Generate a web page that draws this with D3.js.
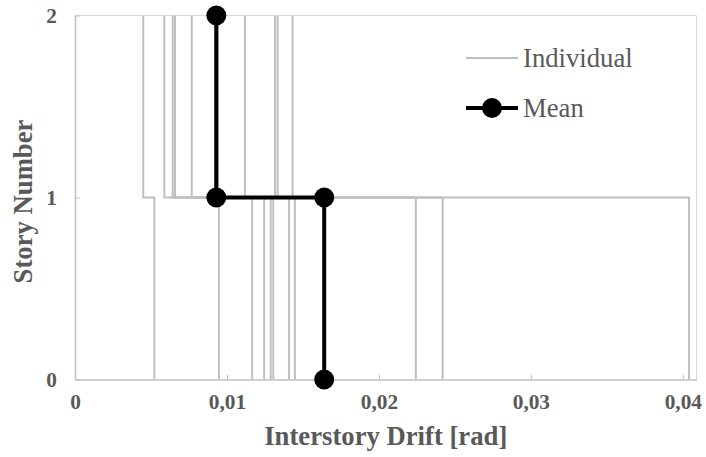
<!DOCTYPE html>
<html>
<head>
<meta charset="utf-8">
<script src="https://cdn.jsdelivr.net/npm/d3@7"></script>
<style>
  html, body { margin: 0; padding: 0; background: #fff; }
  svg { display: block; font-family: "Liberation Serif", "Times New Roman", serif; }
</style>
</head>
<body>
<svg id="chart" width="706" height="457"></svg>
<script>
// peak interstory drift per record, story 1 and story 2 (same order)
const story1Drift = [0.00522, 0.04041, 0.00947, 0.01166, 0.01245, 0.02243, 0.01288, 0.01305, 0.01408, 0.02419, 0.01447];
const story2Drift = [0.00449, 0.00588, 0.00643, 0.00658, 0.00768, 0.00922, 0.00938, 0.01118, 0.01316, 0.01334, 0.01432];
const meanDrift = [0.0164, 0.0093]; // story 1, story 2
const xTicks = [0, 0.01, 0.02, 0.03, 0.04];
const yTicks = [0, 1, 2];
const legendLabels = ["Individual", "Mean"];

const width = 706;
const height = 457;
const margin = { top: 15.5, right: 9.5, bottom: 77.5, left: 75 };
const textColor = "#595959";

const svg = d3.select("#chart");

const x = d3.scaleLinear().domain([0, 0.0409]).range([margin.left, width - margin.right]);
const y = d3.scaleLinear().domain([0, 2]).range([height - margin.bottom, margin.top]);

const locale = d3.formatLocale({ decimal: ",", thousands: ".", grouping: [3], currency: ["", ""] });
const fmt = locale.format(".2~f");

// plot area border (top + right)
svg.append("path")
  .attr("d", `M${x.range()[0]},${y(2)}H${x.range()[1]}V${y(0)}`)
  .attr("fill", "none")
  .attr("stroke", "#d9d9d9")
  .attr("stroke-width", 1);

// step path: story 1 drift from ground to 1st floor, story 2 drift from 1st to roof
const stepLine = d3.line().x((d) => x(d[0])).y((d) => y(d[1]));
const steps = (s1, s2) => [[s1, 0], [s1, 1], [s2, 1], [s2, 2]];

svg.append("g")
  .selectAll("path")
  .data(story1Drift.map((d, i) => steps(d, story2Drift[i])))
  .join("path")
  .attr("d", stepLine)
  .attr("fill", "none")
  .attr("stroke", "#bfbfbf")
  .attr("stroke-width", 2);

// axes
const xAxis = (g) =>
  g.attr("transform", `translate(0,${y(0)})`)
    .call(d3.axisBottom(x).tickValues(xTicks).tickFormat(fmt).tickSizeInner(-5).tickSizeOuter(0).tickPadding(14))
    .call((g) => g.select(".domain").attr("stroke", "#bfbfbf").attr("stroke-width", 1.5))
    .call((g) => g.selectAll(".tick line").attr("stroke", "#bfbfbf"))
    .call((g) => g.selectAll(".tick text")
      .attr("fill", textColor).style("font-size", "21.3px").style("font-weight", "bold")
      .style("font-family", "'Liberation Serif', serif"));

const yAxis = (g) =>
  g.attr("transform", `translate(${x(0)},0)`)
    .call(d3.axisLeft(y).tickValues(yTicks).tickFormat(d3.format("d")).tickSizeInner(-5).tickSizeOuter(0).tickPadding(18))
    .call((g) => g.select(".domain").attr("stroke", "#bfbfbf").attr("stroke-width", 1.5))
    .call((g) => g.selectAll(".tick line").attr("stroke", "#bfbfbf"))
    .call((g) => g.selectAll(".tick text")
      .attr("fill", textColor).style("font-size", "21.3px").style("font-weight", "bold")
      .style("font-family", "'Liberation Serif', serif"));

svg.append("g").call(xAxis);
svg.append("g").call(yAxis);

// mean line
const meanPts = steps(meanDrift[0], meanDrift[1]);
svg.append("path")
  .datum(meanPts)
  .attr("d", stepLine)
  .attr("fill", "none")
  .attr("stroke", "#000")
  .attr("stroke-width", 4);

svg.append("g")
  .selectAll("circle")
  .data(meanPts)
  .join("circle")
  .attr("cx", (d) => x(d[0]))
  .attr("cy", (d) => y(d[1]))
  .attr("r", 10)
  .attr("fill", "#000");

// axis titles
svg.append("text")
  .attr("x", (x.range()[0] + x.range()[1]) / 2)
  .attr("y", 445)
  .attr("text-anchor", "middle")
  .attr("fill", textColor)
  .style("font-size", "26.7px")
  .style("font-weight", "bold")
  .text("Interstory Drift [rad]");

svg.append("text")
  .attr("transform", `translate(32,${(y(0) + y(2)) / 2 + 4}) rotate(-90)`)
  .attr("text-anchor", "middle")
  .attr("fill", textColor)
  .style("font-size", "26.7px")
  .style("font-weight", "bold")
  .text("Story Number");

// legend
const legend = svg.append("g").attr("transform", "translate(466,58)");
const rowH = 50;

legend.append("line")
  .attr("x1", 0).attr("x2", 52).attr("y1", 0).attr("y2", 0)
  .attr("stroke", "#bfbfbf").attr("stroke-width", 2);

legend.append("line")
  .attr("x1", 0).attr("x2", 52).attr("y1", rowH).attr("y2", rowH)
  .attr("stroke", "#000").attr("stroke-width", 4);

legend.append("circle").attr("cx", 26).attr("cy", rowH).attr("r", 10).attr("fill", "#000");

legend.selectAll("text.lab")
  .data(legendLabels)
  .join("text")
  .attr("class", "lab")
  .attr("x", 57)
  .attr("y", (d, i) => i * rowH + 9)
  .attr("fill", textColor)
  .style("font-size", "26.7px")
  .text((d) => d);
</script>
</body>
</html>
